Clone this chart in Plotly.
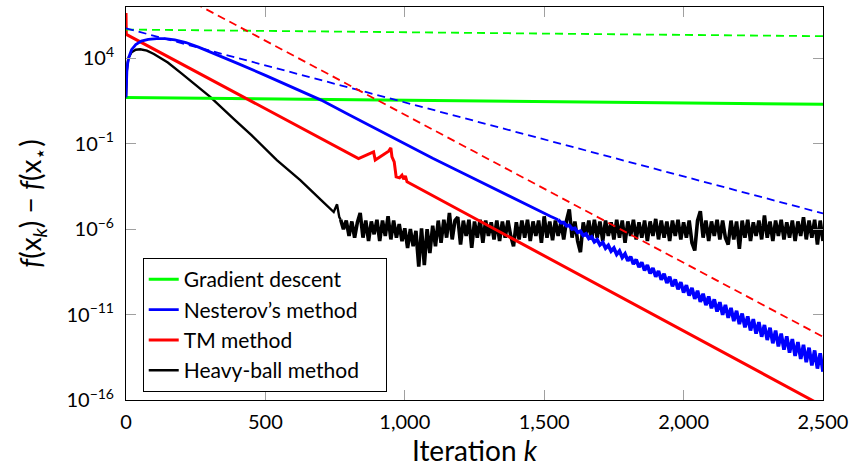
import plotly.graph_objects as go

FONT = "Lato"

# ---------------- data (log10 of f(x_k) - f(x*)) ----------------
gd_k = [0, 2500]
gd_log = [1.70, 1.31]
gd_bound_k = [0, 2500]
gd_bound_log = [5.68, 5.29]

nes_k = [0, 1, 3, 6, 10, 20, 35, 55, 80, 110, 140, 175, 215, 260, 320, 400, 500,
         625, 700, 800, 900, 1000, 1100, 1200, 1343, 1450, 1522, 1550]
nes_log = [1.70, 2.6, 3.2, 3.7, 4.05, 4.5, 4.8, 5.0, 5.1, 5.15, 5.15, 5.08, 4.92,
           4.65, 4.25, 3.7, 3.0, 2.1, 1.55, 0.7, -0.15, -1.0, -1.85, -2.65, -3.82,
           -4.7, -5.25, -5.45]
# oscillating tail, one sample every 10 iterations from k = 1550
nes_tail_log = [
    -5.45, -5.62, -5.62, -5.81, -5.78, -5.99, -5.95, -6.18, -6.12, -6.37,
    -6.28, -6.55, -6.45, -6.74, -6.62, -6.92, -6.78, -7.11, -6.95, -7.29,
    -7.11, -7.48, -7.28, -7.66, -7.45, -7.85, -7.61, -8.04, -7.78, -8.22,
    -7.95, -8.41, -8.11, -8.59, -8.28, -8.78, -8.45, -8.96, -8.61, -9.15,
    -8.78, -9.34, -8.94, -9.52, -9.11, -9.71, -9.28, -9.89, -9.44, -10.08,
    -9.61, -10.26, -9.78, -10.45, -9.94, -10.63, -10.11, -10.82, -10.28, -11.01,
    -10.44, -11.19, -10.61, -11.38, -10.78, -11.56, -10.94, -11.75, -11.11, -11.93,
    -11.27, -12.12, -11.44, -12.30, -11.61, -12.49, -11.77, -12.68, -11.94, -12.86,
    -12.11, -13.05, -12.27, -13.23, -12.44, -13.42, -12.61, -13.60, -12.77, -13.79,
    -12.94, -13.98, -13.10, -14.16, -13.27, -14.35]
nes_tail_k = list(range(1550, 2501, 10))
nes_bound_k = [0, 2500]
nes_bound_log = [5.75, -5.08]

tm_k = [0, 1, 834, 888, 894, 942, 950, 954, 962, 969, 981, 990, 996, 1002, 1008, 2500]
tm_log = [6.65, 5.4, -1.87, -1.48, -1.96, -1.44, -1.25, -1.77, -2.06, -2.94, -3.0,
          -2.84, -3.08, -2.88, -3.23, -16.36]
tm_bound_k = [0, 2500]
tm_bound_log = [9.36, -12.3]

hb_k = [0, 1, 3, 6, 10, 20, 35, 51, 75, 100, 150, 200, 250, 302, 392, 450, 541,
        625, 700, 730, 745, 757, 765, 770]
hb_log = [1.70, 2.6, 3.3, 3.75, 4.05, 4.35, 4.5, 4.53, 4.45, 4.25, 3.75, 3.1, 2.45,
          1.74, 0.37, -0.5, -1.96, -3.13, -4.3, -4.75, -5.0, -4.55, -5.3, -5.45]
# noisy plateau, one sample every 10 iterations from k = 770
hb_tail_log = [
    -5.45, -6.0, -5.5, -6.4, -5.55, -6.5, -5.6, -5.05, -6.5, -5.5,
    -6.7, -5.55, -6.3, -5.45, -6.7, -5.5, -6.4, -5.25, -6.6, -5.5,
    -6.5, -5.7, -6.7, -5.95, -7.1, -6.0, -7.0, -6.1, -8.2, -5.95,
    -8.1, -6.0, -7.4, -5.8, -7.0, -5.5, -6.8, -5.45, -6.5, -5.05,
    -6.6, -5.5, -5.3, -6.9, -5.5, -6.4, -5.45, -7.1, -5.55, -6.5,
    -5.45, -6.8, -5.5, -6.4, -5.6, -6.6, -5.5, -6.7, -5.55, -6.5,
    -5.5, -6.4, -7.0, -5.6, -6.6, -5.5, -6.5, -5.45, -6.7, -5.55,
    -6.4, -5.5, -6.8, -5.25, -6.5, -5.55, -6.65, -5.5, -6.4, -5.6,
    -6.6, -5.5, -4.85, -6.5, -5.55, -6.7, -7.35, -5.6, -6.4, -5.5,
    -6.6, -5.45, -6.5, -5.55, -6.7, -5.5, -6.4, -5.6, -6.6, -5.45,
    -6.5, -5.5, -6.8, -5.55, -6.4, -5.45, -6.6, -5.6, -6.5, -5.5,
    -6.7, -5.55, -6.4, -5.4, -6.6, -5.5, -6.5, -5.55, -6.7, -5.5,
    -6.4, -5.45, -6.6, -5.6, -6.5, -5.5, -6.8, -7.25, -5.5, -4.95,
    -6.5, -5.5, -6.7, -5.55, -6.4, -5.45, -6.6, -5.5, -6.5, -6.9,
    -5.5, -6.6, -5.55, -7.15, -5.5, -6.5, -5.45, -6.7, -5.6, -6.4,
    -5.5, -6.6, -5.2, -6.5, -5.55, -6.7, -5.5, -6.4, -5.45, -6.6,
    -5.6, -6.5, -5.5, -6.7, -5.55, -6.4, -5.3, -6.6, -5.5, -6.5,
    -5.45, -6.9, -5.5, -6.7]
hb_tail_k = list(range(770, 2501, 10))

y_tick_exp = [-16, -11, -6, -1, 4]
x_tick_vals = [0, 500, 1000, 1500, 2000, 2500]
x_tick_text = ["0", "500", "1,000", "1,500", "2,000", "2,500"]

labels = ["Gradient descent", "Nesterov\u2019s method", "TM method", "Heavy-ball method"]
colors = ["#00ff00", "#0000ff", "#ff0000", "#000000"]
PAD = "\u2002\u2002"


def pw(vals):
    return [10 ** v for v in vals]


fig = go.Figure()

# heavy-ball (drawn first)
fig.add_trace(go.Scatter(x=hb_k, y=pw(hb_log), mode="lines",
                         name=labels[3] + PAD, legendrank=4, legendgroup="d",
                         line=dict(color=colors[3], width=2.4)))
fig.add_trace(go.Scatter(x=hb_tail_k, y=pw(hb_tail_log), mode="lines",
                         showlegend=False, legendgroup="d",
                         line=dict(color=colors[3], width=3.6)))
# gradient descent
fig.add_trace(go.Scatter(x=gd_k, y=pw(gd_log), mode="lines", name=labels[0],
                         legendrank=1, legendgroup="a",
                         line=dict(color=colors[0], width=3)))
# TM
fig.add_trace(go.Scatter(x=tm_k, y=pw(tm_log), mode="lines", name=labels[2],
                         legendrank=3, legendgroup="c",
                         line=dict(color=colors[2], width=3)))
# Nesterov
fig.add_trace(go.Scatter(x=nes_k, y=pw(nes_log), mode="lines",
                         name=labels[1], legendrank=2, legendgroup="b",
                         line=dict(color=colors[1], width=2.8)))
fig.add_trace(go.Scatter(x=nes_tail_k, y=pw(nes_tail_log), mode="lines",
                         showlegend=False, legendgroup="b",
                         line=dict(color=colors[1], width=3.6)))

# dashed bounds
for kk, vv, c in [(gd_bound_k, gd_bound_log, colors[0]),
                  (nes_bound_k, nes_bound_log, colors[1]),
                  (tm_bound_k, tm_bound_log, colors[2])]:
    fig.add_trace(go.Scatter(x=kk, y=pw(vv), mode="lines", showlegend=False,
                             line=dict(color=c, width=1.8, dash="8px,5px")))

fig.update_layout(
    width=850, height=472, autosize=False,
    margin=dict(l=126, r=27, t=7, b=72),
    paper_bgcolor="white", plot_bgcolor="white",
    font=dict(family=FONT, size=21, color="black"),
    showlegend=True,
    legend=dict(x=0.024, y=0.361, xanchor="left", yanchor="top",
                bgcolor="white", bordercolor="black", borderwidth=1,
                font=dict(family=FONT, size=21), tracegroupgap=2,
                traceorder="normal"),
)

fig.update_xaxes(
    range=[0, 2500], showgrid=False, zeroline=False, automargin=False,
    showline=True, linecolor="black", linewidth=1, mirror="ticks",
    ticks="inside", ticklen=10, tickcolor="#a0a0a0", tickwidth=1,
    tickvals=x_tick_vals, ticktext=x_tick_text, ticklabelstandoff=4,
    tickfont=dict(family=FONT, size=20),
    title=dict(text="Iteration <i>k</i>", font=dict(family=FONT, size=28), standoff=8),
)
fig.update_yaxes(
    type="log", range=[-16, 7], showgrid=False, zeroline=False, automargin=False,
    showline=True, linecolor="black", linewidth=1, mirror="ticks",
    ticks="inside", ticklen=10, tickcolor="#a0a0a0", tickwidth=1,
    tickvals=[10 ** e for e in y_tick_exp],
    ticktext=["10<sup>\u2212%d</sup>" % (-e) if e < 0 else "10<sup>%d</sup>" % e
              for e in y_tick_exp],
    ticklabelstandoff=7,
    tickfont=dict(family=FONT, size=20),
    title=dict(text="<i>f</i>(x<sub><i>k</i></sub>) \u2212 <i>f</i>(x<sub>\u22c6</sub>)",
               font=dict(family=FONT, size=28), standoff=16),
)

fig.write_html("out.html", config={"displayModeBar": False},
               post_script="document.body.style.margin='0';document.body.style.padding='0';")
